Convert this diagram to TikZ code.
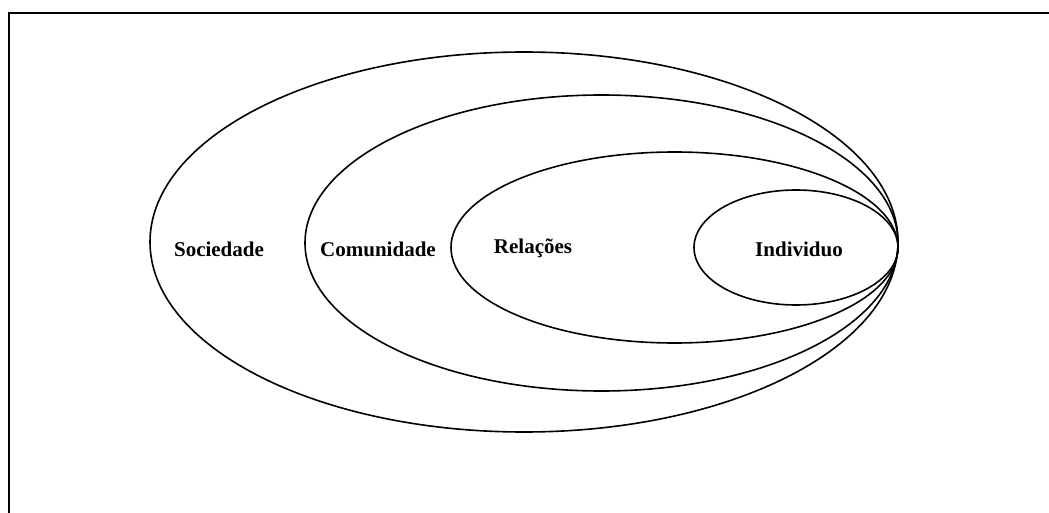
\documentclass[tikz,border=0pt]{standalone}
\usepackage{fontspec}
\setmainfont{Liberation Serif}
\tikzset{
  ring/.style={draw=black, line width=1.6pt},
  frameline/.style={draw=black, line width=2.4pt},
  lbl/.style={font=\bfseries\fontsize{21pt}{24pt}\selectfont, inner sep=0pt}
}
\begin{document}
\begin{tikzpicture}[x=1pt,y=-1pt]
\useasboundingbox (0,0) rectangle (1049,513);
\coordinate (fa) at (9,513);
\coordinate (fb) at (9,13);
\coordinate (fc) at (1049,13);
\draw[frameline] (fa) -- (fb) -- (fc);
\draw[ring] (524,242) ellipse [x radius=374, y radius=190];
\draw[ring] (601.5,243) ellipse [x radius=296.5, y radius=148];
\draw[ring] (674.5,247.5) ellipse [x radius=223.5, y radius=95.5];
\draw[ring] (796,247.5) ellipse [x radius=102, y radius=57.5];
\node[lbl] (soc) at (219,249) {Sociedade};
\node[lbl] (com) at (378,249) {Comunidade};
\node[lbl] (rel) at (533,248) {Relações};
\node[lbl] (ind) at (799,249) {Individuo};
\end{tikzpicture}
\end{document}
